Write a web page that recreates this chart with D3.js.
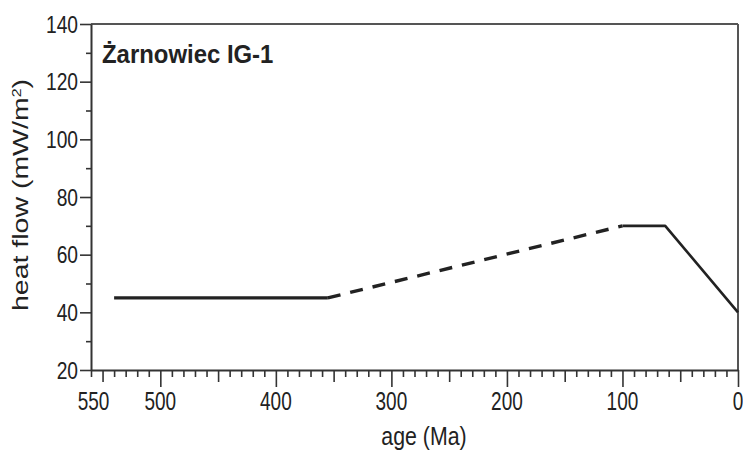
<!DOCTYPE html>
<html>
<head>
<meta charset="utf-8">
<script src="https://cdn.jsdelivr.net/npm/d3@7"></script>
<style>
  body { margin: 0; background: #fff; }
  text { font-family: "Liberation Sans", Arial, sans-serif; fill: #222; }
</style>
</head>
<body>
<div id="chart"></div>
<script>
// heat flow history, Żarnowiec IG-1
const earlyAge = [540, 355];
const earlyHF = [45, 45];
const inferredAge = [355, 100];   // dashed part
const inferredHF = [45, 70];
const lateAge = [100, 63, 0];
const lateHF = [70, 70, 40];

const xTickLabels = [550, 500, 400, 300, 200, 100, 0];
const yTickLabels = [20, 40, 60, 80, 100, 120, 140];

const width = 743, height = 450;
const svg = d3.select("#chart").append("svg")
    .attr("width", width)
    .attr("height", height);

const x = d3.scaleLinear().domain([560, 0]).range([91, 738]);
const y = d3.scaleLinear().domain([20, 140]).range([370, 24]);

const axisColor = "#333";

// box: top and right borders
svg.append("line")
    .attr("x1", x(560)).attr("x2", x(0))
    .attr("y1", y(140)).attr("y2", y(140))
    .attr("stroke", "#555").attr("stroke-width", 2);
svg.append("line")
    .attr("x1", x(0)).attr("x2", x(0))
    .attr("y1", y(140)).attr("y2", y(20))
    .attr("stroke", "#555").attr("stroke-width", 2);

// x axis, minor ticks every 10 Ma
const xAxis = svg.append("g")
    .attr("transform", `translate(0,${y(20)})`)
    .call(d3.axisBottom(x)
        .tickValues(d3.range(0, 561, 10))
        .tickSize(7)
        .tickSizeOuter(0)
        .tickFormat(""));
xAxis.select(".domain").attr("stroke", axisColor).attr("stroke-width", 2);
xAxis.selectAll(".tick line")
    .attr("stroke", axisColor)
    .attr("stroke-width", 1.6)
    .attr("y2", d => d % 100 === 0 ? 17 : d % 50 === 0 ? 12 : 7);

svg.append("g").selectAll("text")
    .data(xTickLabels)
    .join("text")
    .attr("transform", d => `translate(${x(d) + (d === 550 ? -9 : 0)},410) scale(0.76,1)`)
    .attr("text-anchor", "middle")
    .style("font-size", "25px")
    .text(d => d);

// y axis, minor ticks every 10
const yAxis = svg.append("g")
    .attr("transform", `translate(${x(560)},0)`)
    .call(d3.axisLeft(y)
        .tickValues(d3.range(20, 141, 10))
        .tickSize(11)
        .tickSizeOuter(0)
        .tickFormat(""));
yAxis.select(".domain").attr("stroke", axisColor).attr("stroke-width", 2);
yAxis.selectAll(".tick line")
    .attr("stroke", axisColor)
    .attr("stroke-width", 1.6)
    .attr("x2", d => d % 20 === 0 ? -11 : -5);

svg.append("g").selectAll("text")
    .data(yTickLabels)
    .join("text")
    .attr("transform", d => `translate(78,${y(d) + 8.5}) scale(0.8,1)`)
    .attr("text-anchor", "end")
    .style("font-size", "24px")
    .text(d => d);

// axis titles
svg.append("text")
    .attr("transform", "translate(424,445) scale(0.82,1)")
    .attr("text-anchor", "middle")
    .style("font-size", "26px")
    .text("age (Ma)");

const yTitle = svg.append("text")
    .attr("transform", "translate(28,195) rotate(-90) scale(1,0.8)")
    .attr("text-anchor", "middle")
    .style("font-size", "28.5px");
yTitle.append("tspan").text("heat flow (mW/m");
yTitle.append("tspan").attr("baseline-shift", "super").style("font-size", "16px").text("2");
yTitle.append("tspan").text(")");

// well name
svg.append("text")
    .attr("transform", "translate(102,63) scale(0.92,1)")
    .style("font-size", "26px")
    .style("font-weight", "bold")
    .text("Żarnowiec IG-1");

// heat flow curve
const line = d3.line().x(d => x(d[0])).y(d => y(d[1]));
const zip = (a, b) => a.map((v, i) => [v, b[i]]);

svg.append("path")
    .datum(zip(earlyAge, earlyHF))
    .attr("d", line)
    .attr("fill", "none")
    .attr("stroke", "#222")
    .attr("stroke-width", 3.2);

svg.append("path")
    .datum(zip(inferredAge, inferredHF))
    .attr("d", line)
    .attr("fill", "none")
    .attr("stroke", "#222")
    .attr("stroke-width", 3.4)
    .attr("stroke-dasharray", "13,10");

svg.append("path")
    .datum(zip(lateAge, lateHF))
    .attr("d", line)
    .attr("fill", "none")
    .attr("stroke", "#222")
    .attr("stroke-width", 2.6)
    .attr("stroke-linejoin", "round");
</script>
</body>
</html>
